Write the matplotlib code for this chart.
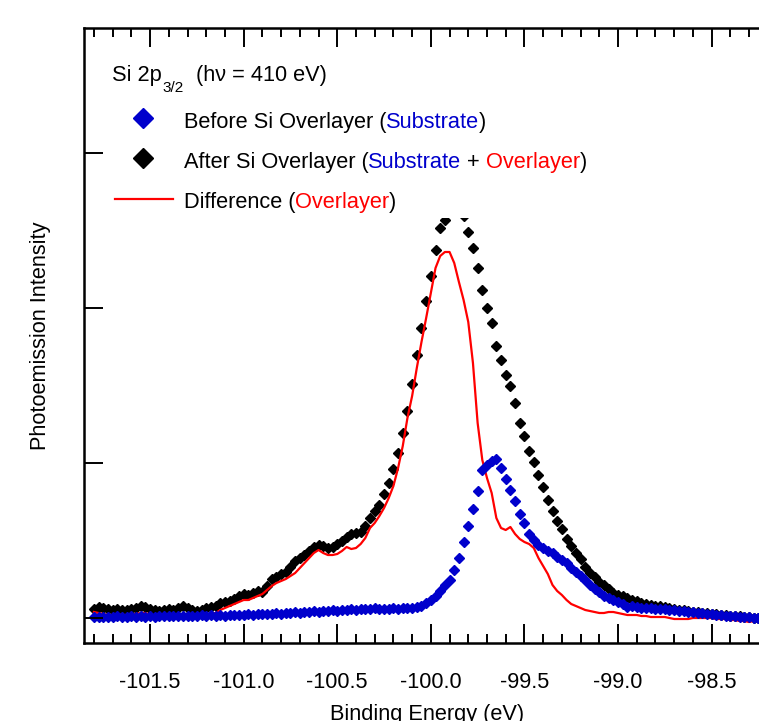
import matplotlib
matplotlib.use("Agg")
import matplotlib.pyplot as plt
from matplotlib.lines import Line2D
import matplotlib.patches as patches
from matplotlib.ticker import MultipleLocator
import numpy as np

plt.rcParams['font.family'] = ['Liberation Sans', 'DejaVu Sans']
plt.rcParams['axes.unicode_minus'] = False

# binding energy scan grid (eV), 0.025 eV steps
energy = np.linspace(-101.80, -98.25, 143)

# photoemission intensity, arbitrary units
before = [1, 1.5, 1, 1.5, 1, 2, 1.5, 1,
          2, 1.5, 2, 1.5, 2, 1.5, 2, 2.5, 2, 2,
          2.5, 2, 2.5, 2, 2.5, 3, 2.5, 3, 2.5, 3,
          2.5, 3, 3, 3.5, 3, 4, 3.5, 4, 4, 4.5,
          4, 5, 4.5, 5.5, 5, 6, 5.5, 6.5, 6, 7,
          6.5, 7.5, 7, 8, 7.5, 8.5, 8, 9, 8.5, 9,
          9.5, 9, 10, 9.5, 9, 9.5, 10, 9.5, 10, 10.5,
          10, 11, 12, 15, 18, 22, 27, 33, 38, 48,
          60, 76, 92, 109, 127, 148, 153, 157, 159, 150,
          139, 128, 117, 104, 95, 84, 78, 73, 70, 67,
          65, 61, 58, 55, 50, 46, 42, 38, 33, 29,
          26, 22, 20, 18, 16, 14, 11, 12, 11, 10.5,
          10, 10, 9.5, 9, 9, 8.5, 8, 7.5, 7, 6.5,
          6, 5.5, 5, 4.5, 4, 3.5, 3, 2.5, 2, 2,
          1.5, 1, 1, 0.5, 0.5]

after = [9, 11, 10, 9, 8, 9, 8, 8,
         9, 10, 12, 11, 9, 8, 7, 8, 9, 8,
         10, 12, 10, 8, 7, 8, 10, 11, 12, 15,
         16, 17, 19, 22, 24, 23, 25, 27, 26, 32,
         39, 41, 44, 46, 51, 57, 60, 63, 67, 71,
         73, 72, 70, 71, 74, 77, 81, 84, 85, 86,
         92, 100, 107, 113, 124, 135, 149, 165, 185, 207,
         234, 263, 290, 317, 342, 368, 390, 398, 420, 428,
         425, 402, 386, 370, 350, 328, 310, 295, 272, 258,
         243, 232, 215, 195, 182, 167, 156, 143, 131, 118,
         107, 97, 89, 79, 72, 65, 59, 51, 45, 41,
         36, 33, 29, 25, 23, 22, 20, 18, 17, 15,
         14, 13, 12, 12, 11, 10, 9, 8, 8, 7,
         6, 6, 5, 5, 4, 4, 3, 3, 2, 2,
         2, 1, 1, 0, 0]

difference = [6, 5, 4, 3, 3, 4, 3, 3,
              4, 4, 5, 5, 3, 2, 1, -1, 0, 2,
              3, 4, 3, 2, 1, 2, 3, 4, 5, 8,
              10, 12, 14, 16, 18, 18, 20, 22, 24, 28,
              32, 35, 37, 39, 42, 45, 50, 55, 60, 65,
              68, 65, 63, 63, 64, 67, 71, 69, 70, 74,
              80, 90, 95, 102, 110, 120, 132, 150, 172, 200,
              222, 250, 276, 300, 325, 350, 362, 366, 366, 355,
              336, 318, 296, 255, 195, 158, 140, 125, 100, 90,
              88, 91, 84, 79, 76, 74, 70, 60, 52, 44,
              33, 27, 23, 18, 14, 12, 10, 8, 7, 6,
              5, 5, 6, 6, 5, 4, 3, 3, 3, 2,
              2, 1, 1, 1, 1, 0, -1, -1, -1, -1,
              0, 0, 0, 0, 0, -1, -1, -1, -2, -2,
              -3, -3, -4, -3, -3]

xticks = [-101.5, -101.0, -100.5, -100.0, -99.5, -99.0, -98.5]
yticks = [0, 155, 310, 465]

BLUE = "#0000cc"
RED = "#ff0000"
FS = 15.7

W, H = 759, 721
fig = plt.figure(figsize=(W / 100, H / 100), dpi=100)
ax = fig.add_axes([84 / W, 1 - 643 / H, 686 / W, 615 / H])

ax.plot(energy, after, linestyle="none", marker="D", ms=5.1, color="black", zorder=2.0)
ax.plot(energy, difference, "-", color=RED, lw=1.6, zorder=2.05)
ax.plot(energy, before, linestyle="none", marker="D", ms=4.6, color=BLUE, zorder=2.1)

# white area behind the annotation (hides the top of the peak)
ax.add_patch(patches.Rectangle((0, 0.691), 0.75, 0.309, transform=ax.transAxes,
                               facecolor="white", edgecolor="none", zorder=2.2))
ax.set_axisbelow(False)

ax.set_xlim(-101.853, -98.188)
ax.set_ylim(-25, 590)
ax.set_xticks(xticks)
ax.set_xticklabels(["%.1f" % v for v in xticks])
ax.xaxis.set_minor_locator(MultipleLocator(0.1))
ax.set_yticks(yticks)
ax.tick_params(axis="x", which="major", direction="in", length=13.7, width=1.4,
               top=True, pad=21, labelsize=FS)
ax.tick_params(axis="x", which="minor", direction="in", length=6.5, width=1.4, top=True)
ax.tick_params(axis="y", which="major", direction="in", length=13.7, width=1.4,
               labelleft=False)
for s in ["left", "bottom", "top", "right"]:
    ax.spines[s].set_linewidth(1.8)

ax.set_xlabel("Binding Energy (eV)", fontsize=FS, va="top")
ax.xaxis.set_label_coords(0.5, -0.099)
ax.set_ylabel("Photoemission Intensity", fontsize=FS)
ax.yaxis.set_label_coords(-0.048, 0.5)

renderer = fig.canvas.get_renderer()


def text_width(s, size):
    t = fig.text(0, 0, s, fontsize=size)
    w = t.get_window_extent(renderer).width
    t.remove()
    return w


def draw_pieces(x, y, pieces, size=FS):
    full = ""
    for txt, color in pieces:
        lead = len(txt) - len(txt.lstrip())
        prefix = full + txt[:lead]
        off = text_width(prefix + "x", size) - text_width("x", size) if prefix else 0
        fig.text((x + off) / W, 1 - y / H, txt.strip(), color=color, fontsize=size,
                 va="baseline")
        full += txt


# annotation block
fig.text(112 / W, 1 - 80.7 / H, "Si 2p", fontsize=FS, va="baseline")
fig.text(162 / W, 1 - 92 / H, "3/2", fontsize=11, va="baseline")
fig.text(196.5 / W, 1 - 80.7 / H, "(h\u03bd = 410 eV)", fontsize=FS, va="baseline")

fig.add_artist(Line2D([143 / W], [1 - 118 / H], marker="D", ms=10.2, color=BLUE,
                      linestyle="none", transform=fig.transFigure))
fig.add_artist(Line2D([143 / W], [1 - 158 / H], marker="D", ms=10.2, color="black",
                      linestyle="none", transform=fig.transFigure))
fig.add_artist(Line2D([115 / W, 173 / W], [1 - 199 / H, 1 - 199 / H], color=RED, lw=1.6,
                      transform=fig.transFigure))

draw_pieces(183.5, 128, [("Before Si Overlayer (", "black"), ("Substrate", BLUE),
                         (")", "black")])
draw_pieces(183.5, 168, [("After Si Overlayer (", "black"), ("Substrate", BLUE),
                         (" + ", "black"), ("Overlayer", RED), (")", "black")])
draw_pieces(183.5, 208, [("Difference (", "black"), ("Overlayer", RED), (")", "black")])

fig.savefig("out.png", dpi=100)
